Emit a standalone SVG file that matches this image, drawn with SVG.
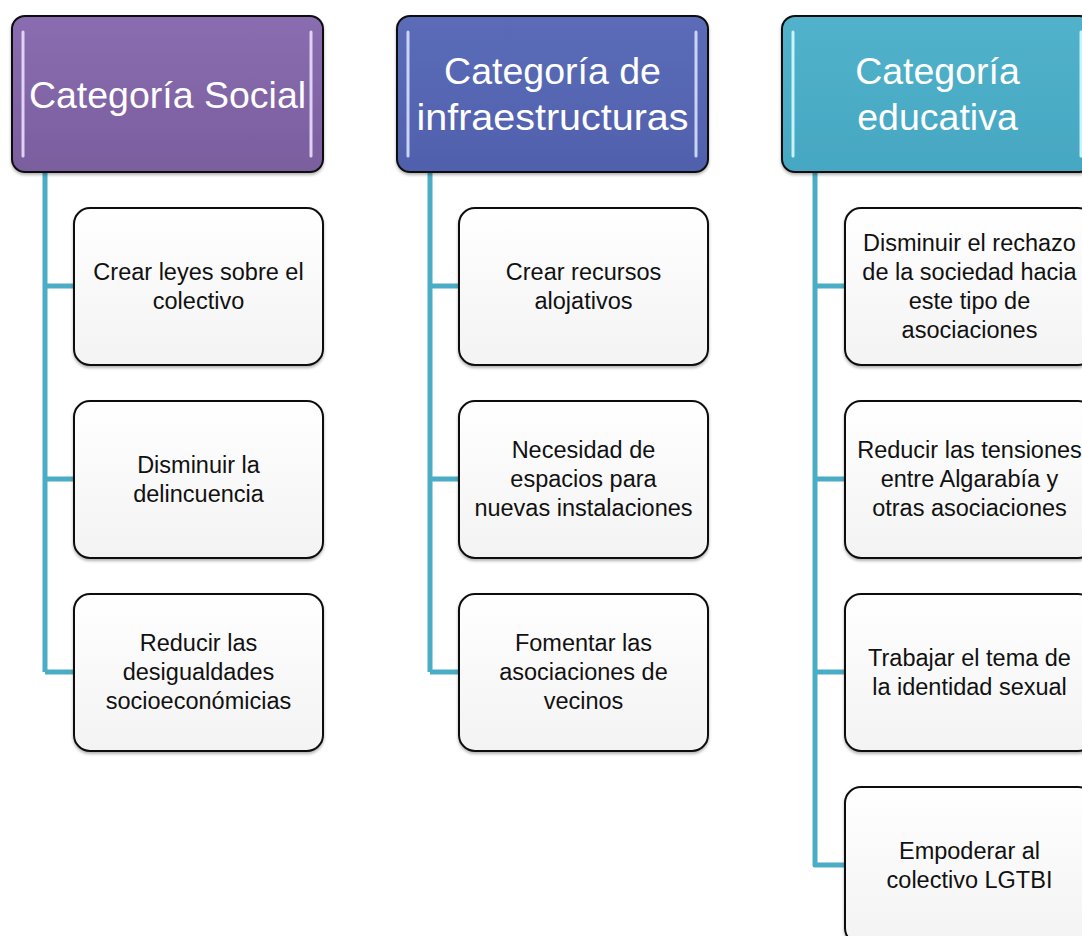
<svg xmlns="http://www.w3.org/2000/svg" width="1082" height="936" viewBox="0 0 1082 936">
<defs>
<linearGradient id="gP" x1="0" y1="0" x2="0" y2="1"><stop offset="0" stop-color="#8a6db0"/><stop offset="1" stop-color="#7a5e9e"/></linearGradient>
<linearGradient id="gB" x1="0" y1="0" x2="0" y2="1"><stop offset="0" stop-color="#5b6cb8"/><stop offset="1" stop-color="#5060ac"/></linearGradient>
<linearGradient id="gT" x1="0" y1="0" x2="0" y2="1"><stop offset="0" stop-color="#52b2cb"/><stop offset="1" stop-color="#46a7c2"/></linearGradient>
<linearGradient id="gW" x1="0" y1="0" x2="0" y2="1"><stop offset="0" stop-color="#ffffff"/><stop offset="1" stop-color="#f3f3f3"/></linearGradient>
<filter id="sh" x="-5%" y="-5%" width="110%" height="115%"><feDropShadow dx="0" dy="2" stdDeviation="1.5" flood-color="#000" flood-opacity="0.3"/></filter>
</defs>
<style>
.hdr{stroke:#111;stroke-width:2;filter:url(#sh)}
.hl{stroke-width:3;stroke-linecap:round;fill:none}
.box{fill:url(#gW);stroke:#111;stroke-width:2;filter:url(#sh)}
.ht{font-family:"Liberation Sans",Arial,sans-serif;font-size:37.5px;fill:#fff;text-anchor:middle}
.bt{font-family:"Liberation Sans",Arial,sans-serif;font-size:23.5px;fill:#111;text-anchor:middle}
.con{stroke:#4bacc6;stroke-width:5;fill:none;stroke-linejoin:round}
</style>
<rect width="1082" height="936" fill="#fff"/>
<g id="connectors">
<path class="con" d="M45 172 V672 M45 286 H74 M45 479 H74 M45 672 H74"/>
<path class="con" d="M430 172 V672 M430 286 H459 M430 479 H459 M430 672 H459"/>
<path class="con" d="M815 172 V865 H845 M815 286 H845 M815 479 H845 M815 672 H845"/>
</g>
<g id="h1">
<rect class="hdr" x="12" y="16" width="311" height="156" rx="13" fill="url(#gP)"/>
<line class="hl" x1="23" y1="32" x2="23" y2="156" stroke="#e0d2f5"/>
<line class="hl" x1="311" y1="32" x2="311" y2="156" stroke="#e0d2f5"/>
<text class="ht" x="167.5" y="108">Categoría Social</text>
</g>
<g id="h2">
<rect class="hdr" x="397" y="16" width="311" height="156" rx="13" fill="url(#gB)"/>
<line class="hl" x1="408" y1="32" x2="408" y2="156" stroke="#c9d3f5"/>
<line class="hl" x1="696" y1="32" x2="696" y2="156" stroke="#c9d3f5"/>
<text class="ht" x="552.5" y="84">Categoría de</text>
<text class="ht" x="552.5" y="130" textLength="272" lengthAdjust="spacingAndGlyphs">infraestructuras</text>
</g>
<g id="h3">
<rect class="hdr" x="782" y="16" width="311" height="156" rx="13" fill="url(#gT)"/>
<line class="hl" x1="793" y1="32" x2="793" y2="156" stroke="#c8f4ff"/>
<line class="hl" x1="1081" y1="32" x2="1081" y2="156" stroke="#c8f4ff"/>
<text class="ht" x="937.5" y="84">Categoría</text>
<text class="ht" x="937.5" y="130">educativa</text>
</g>
<g id="c1a"><rect class="box" x="74" y="208" width="249" height="157" rx="16"/>
<text class="bt" x="198.5" y="280">Crear leyes sobre el</text><text class="bt" x="198.5" y="309">colectivo</text></g>
<g id="c1b"><rect class="box" x="74" y="401" width="249" height="157" rx="16"/>
<text class="bt" x="198.5" y="473">Disminuir la</text><text class="bt" x="198.5" y="502">delincuencia</text></g>
<g id="c1c"><rect class="box" x="74" y="594" width="249" height="157" rx="16"/>
<text class="bt" x="198.5" y="651">Reducir las</text><text class="bt" x="198.5" y="680">desigualdades</text><text class="bt" x="198.5" y="709">socioeconómicias</text></g>
<g id="c2a"><rect class="box" x="459" y="208" width="249" height="157" rx="16"/>
<text class="bt" x="583.5" y="280">Crear recursos</text><text class="bt" x="583.5" y="309">alojativos</text></g>
<g id="c2b"><rect class="box" x="459" y="401" width="249" height="157" rx="16"/>
<text class="bt" x="583.5" y="458">Necesidad de</text><text class="bt" x="583.5" y="487">espacios para</text><text class="bt" x="583.5" y="516">nuevas instalaciones</text></g>
<g id="c2c"><rect class="box" x="459" y="594" width="249" height="157" rx="16"/>
<text class="bt" x="583.5" y="651">Fomentar las</text><text class="bt" x="583.5" y="680">asociaciones de</text><text class="bt" x="583.5" y="709">vecinos</text></g>
<g id="c3a"><rect class="box" x="845" y="208" width="249" height="157" rx="16"/>
<text class="bt" x="969.5" y="251">Disminuir el rechazo</text><text class="bt" x="969.5" y="280">de la sociedad hacia</text><text class="bt" x="969.5" y="309">este tipo de</text><text class="bt" x="969.5" y="338">asociaciones</text></g>
<g id="c3b"><rect class="box" x="845" y="401" width="249" height="157" rx="16"/>
<text class="bt" x="969.5" y="458">Reducir las tensiones</text><text class="bt" x="969.5" y="487">entre Algarabía y</text><text class="bt" x="969.5" y="516">otras asociaciones</text></g>
<g id="c3c"><rect class="box" x="845" y="594" width="249" height="157" rx="16"/>
<text class="bt" x="969.5" y="666">Trabajar el tema de</text><text class="bt" x="969.5" y="695">la identidad sexual</text></g>
<g id="c3d"><rect class="box" x="845" y="787" width="249" height="157" rx="16"/>
<text class="bt" x="969.5" y="859">Empoderar al</text><text class="bt" x="969.5" y="888">colectivo LGTBI</text></g>
</svg>
